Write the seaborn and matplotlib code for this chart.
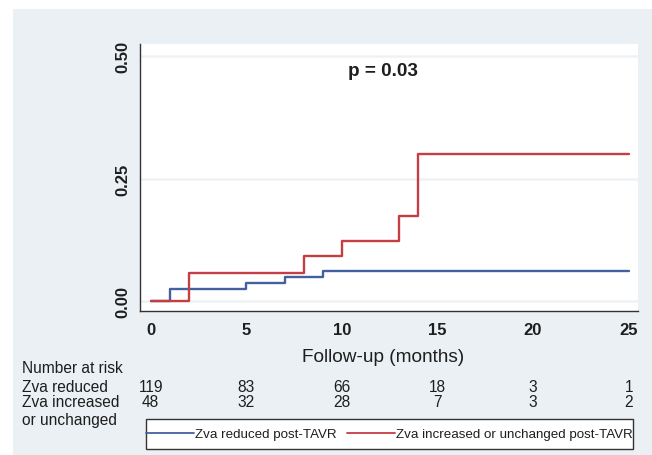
import numpy as np
import pandas as pd
import matplotlib
matplotlib.use("Agg")
import matplotlib.pyplot as plt
import seaborn as sns
from matplotlib.patches import Rectangle
from matplotlib.lines import Line2D
import matplotlib.transforms as mtransforms

# ---------------- data ----------------
time_reduced = [0, 1, 5, 7, 9, 25]
cuminc_reduced = [0.0, 0.025, 0.037, 0.049, 0.062, 0.062]
time_increased = [0, 2, 8, 10, 13, 14, 25]
cuminc_increased = [0.0, 0.058, 0.091, 0.122, 0.174, 0.301, 0.301]
group_labels = ["Zva reduced post-TAVR", "Zva increased or unchanged post-TAVR"]

risk_times = [0, 5, 10, 15, 20, 25]
risk_reduced = [119, 83, 66, 18, 3, 1]
risk_increased = [48, 32, 28, 7, 3, 2]
risk_title = "Number at risk"
risk_row1 = "Zva reduced"
risk_row2a = "Zva increased"
risk_row2b = "or unchanged"

x_ticks = [0, 5, 10, 15, 20, 25]
y_ticks = [0.0, 0.25, 0.50]
y_ticklabels = ["0.00", "0.25", "0.50"]
x_label = "Follow-up (months)"
p_text = "p = 0.03"

# ---------------- styling ----------------
sns.set_style("white")
plt.rcParams["font.family"] = ["Liberation Sans", "DejaVu Sans"]

W, H = 652, 456
BG = "#eaf0f3"
BLUE = "#43619e"
RED = "#c43e44"
TXT = "#1e1e1e"

df = pd.concat([
    pd.DataFrame({"time": time_reduced, "cuminc": cuminc_reduced, "group": group_labels[0]}),
    pd.DataFrame({"time": time_increased, "cuminc": cuminc_increased, "group": group_labels[1]}),
], ignore_index=True)

fig = plt.figure(figsize=(W / 100, H / 100), dpi=100)
fig.patch.set_facecolor("white")
fig.patches.append(Rectangle((13 / W, 0), 1 - 13 / W, 1 - 10 / H, transform=fig.transFigure,
                             facecolor=BG, edgecolor="none", zorder=-10))

ax = fig.add_axes([140 / W, 1 - 312 / H, 498 / W, 267 / H])
ax.set_facecolor("white")

sns.lineplot(data=df, x="time", y="cuminc", hue="group", palette=[BLUE, RED],
             drawstyle="steps-post", linewidth=1.7, estimator=None, sort=False,
             legend=False, ax=ax)

ax.set_xlim(-0.56, 25.49)
ax.set_ylim(-0.0204, 0.5245)
ax.set_xticks(x_ticks)
ax.set_xticklabels([str(t) for t in x_ticks], fontsize=12, fontweight="bold", color=TXT)
ax.set_yticks(y_ticks)
ax.set_yticklabels(y_ticklabels, fontsize=12, fontweight="bold", color=TXT,
                   rotation=90, va="center")
ax.tick_params(axis="both", direction="out", length=4, width=1, color="#333333")
ax.tick_params(axis="x", pad=4)
ax.tick_params(axis="y", pad=3)
for s in ["top", "right"]:
    ax.spines[s].set_visible(False)
for s in ["left", "bottom"]:
    ax.spines[s].set_color("#333333")
    ax.spines[s].set_linewidth(1.0)
ax.grid(axis="y", color="#eef2f4", linewidth=1.8)
ax.grid(axis="x", visible=False)
ax.set_axisbelow(True)

ax.set_ylabel("")
ax.set_xlabel(x_label, fontsize=13.7, color=TXT)
ax.xaxis.label.set_va("center")
ax.xaxis.set_label_coords((383.5 - 140) / 498, (312 - 357) / 267)

ax.text((383 - 140) / 498, (312 - 72) / 267, p_text, transform=ax.transAxes,
        ha="center", va="center", fontsize=13.6, fontweight="bold", color=TXT)

# ---------------- number at risk table ----------------
def fy(py):
    return 1 - py / H

fs_risk = 11.2
fig.text(22 / W, fy(369), risk_title, ha="left", va="center", fontsize=fs_risk, color=TXT)
fig.text(22 / W, fy(387), risk_row1, ha="left", va="center", fontsize=fs_risk, color=TXT)
fig.text(22 / W, fy(403), risk_row2a, ha="left", va="center", fontsize=fs_risk, color=TXT)
fig.text(22 / W, fy(421), risk_row2b, ha="left", va="center", fontsize=fs_risk, color=TXT)

trans = mtransforms.blended_transform_factory(ax.transData, fig.transFigure)
for t, n1, n2 in zip(risk_times, risk_reduced, risk_increased):
    ax.text(t, fy(387), str(n1), transform=trans, ha="center", va="center",
            fontsize=fs_risk, color=TXT, clip_on=False)
    ax.text(t, fy(403), str(n2), transform=trans, ha="center", va="center",
            fontsize=fs_risk, color=TXT, clip_on=False)

# ---------------- legend ----------------
fig.patches.append(Rectangle((146 / W, fy(450)), (633 - 146) / W, 30 / H,
                             transform=fig.transFigure, facecolor="white",
                             edgecolor="#333333", linewidth=1.0, zorder=1))
handles = [Line2D([], [], color=BLUE, linewidth=1.3), Line2D([], [], color=RED, linewidth=1.3)]
leg = fig.legend(handles, group_labels, ncol=2, loc="center",
                 bbox_to_anchor=(389.5 / W, fy(435)), frameon=False,
                 handlelength=3.6, handletextpad=0.1, columnspacing=0.75,
                 borderpad=0, borderaxespad=0, fontsize=9.6)
leg.set_zorder(5)
for txt in leg.get_texts():
    txt.set_color(TXT)

fig.savefig("out.png", dpi=100, facecolor=fig.get_facecolor())
